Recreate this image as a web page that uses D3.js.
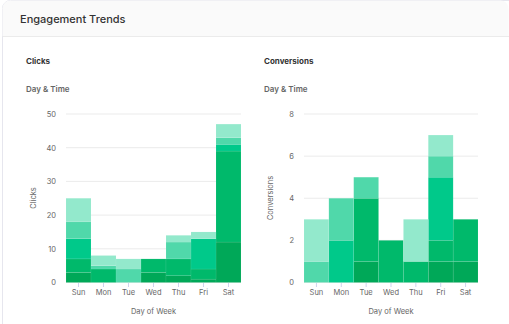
<!DOCTYPE html>
<html><head><meta charset="utf-8">
<script src="https://cdn.jsdelivr.net/npm/d3@7"></script>
<style>
html,body{margin:0;padding:0;background:#fff;}
svg{display:block;font-family:Inter,"Noto Sans",sans-serif;}
</style></head><body>
<svg id="c" width="509" height="324"></svg>
<script>
const days = ["Sun","Mon","Tue","Wed","Thu","Fri","Sat"];
const slots = ["s1","s2","s3","s4","s5"];
const slotColors = ["#00a858","#00b96b","#00c98a","#50d8aa","#93e9cc"];
// clicks per slot (bottom to top)
const clicksS1 = [3,0,0,3,2,1,12];
const clicksS2 = [4,4,0,4,5,3,27];
const clicksS3 = [6,0,0,0,0,9,2];
const clicksS4 = [5,1,4,0,5,0,2];
const clicksS5 = [7,3,3,0,2,2,4];
const clickTicks = [0,10,20,30,40,50];
// conversions per slot
const convS1 = [0,0,1,0,0,1,1];
const convS2 = [0,0,3,2,1,1,2];
const convS3 = [0,2,0,0,0,3,0];
const convS4 = [1,2,1,0,0,1,0];
const convS5 = [2,0,0,0,2,1,0];
const convTicks = [0,2,4,6,8];

const svg = d3.select("#c");
// card
svg.append("rect").attr("x",2.5).attr("y",0.5).attr("width",520).attr("height",340)
  .attr("rx",8).attr("fill","#fff").attr("stroke","#e6e6ee");
svg.append("path").attr("d","M2.5,36 V8.5 A8,8 0 0 1 10.5,0.5 H500.5 A8,8 0 0 1 508.5,8.5 V36 Z").attr("fill","#fafafa");
svg.append("line").attr("x1",2.5).attr("x2",509).attr("y1",36.5).attr("y2",36.5).attr("stroke","#ebebeb");
svg.append("text").attr("x",20).attr("y",22.5).attr("font-size",11).attr("font-weight",500)
  .attr("fill","#333").text("Engagement Trends");

function panel(x0, title, yLabel, series, ticks, ymax, xr){
  svg.append("text").attr("x",x0).attr("y",64).attr("font-size",8).attr("font-weight",700).attr("fill","#333").text(title);
  svg.append("text").attr("x",x0).attr("y",92).attr("font-size",8).attr("font-weight",600).attr("fill","#666").text("Day & Time");
  const x = d3.scaleBand().domain(days).range(xr).padding(0);
  const y = d3.scaleLinear().domain([0,ymax]).range([282.5,114]);
  const g = svg.append("g");
  g.selectAll("line.grid").data(ticks).join("line").attr("class","grid")
    .attr("x1",xr[0]).attr("x2",xr[1]).attr("y1",d=>y(d)).attr("y2",d=>y(d))
    .attr("stroke","#ebebeb");
  const data = days.map((d,i)=>{const o={day:d}; slots.forEach((s,j)=>o[s]=series[j][i]); return o;});
  const stack = d3.stack().keys(slots)(data);
  g.selectAll("g.layer").data(stack).join("g").attr("fill",(d,i)=>slotColors[i])
    .selectAll("rect").data(d=>d).join("rect")
    .attr("x",d=>x(d.data.day)).attr("width",x.bandwidth())
    .attr("y",d=>y(d[1])).attr("height",d=>y(d[0])-y(d[1]))
    .attr("stroke","rgba(255,255,255,0.15)").attr("stroke-width",0.5);
  const ya = d3.axisLeft(y).tickValues(ticks).tickSize(0).tickPadding(0);
  const yg = g.append("g").attr("transform",`translate(${xr[0]-10},0)`).call(ya);
  yg.select(".domain").remove();
  yg.selectAll("text").attr("font-size",7.5).attr("fill","#666").attr("font-family","Inter,sans-serif");
  const xa = d3.axisBottom(x).tickSize(4).tickPadding(3);
  const xg = g.append("g").attr("transform","translate(0,283)").call(xa);
  xg.select(".domain").remove();
  xg.selectAll("line").attr("stroke","#cfd3ee");
  xg.selectAll("text").attr("font-size",7.5).attr("fill","#666").attr("font-family","Inter,sans-serif");
  svg.append("text").attr("transform",`translate(${x0+ (title==="Clicks"?9.5:9)},198) rotate(-90)`)
    .attr("text-anchor","middle").attr("font-size",7.5).attr("fill","#666").text(yLabel);
  svg.append("text").attr("x",(xr[0]+xr[1])/2).attr("y",314).attr("text-anchor","middle")
    .attr("font-size",7.5).attr("fill","#666").text("Day of Week");
}
panel(26,"Clicks","Clicks",[clicksS1,clicksS2,clicksS3,clicksS4,clicksS5],clickTicks,50,[66,241]);
panel(264,"Conversions","Conversions",[convS1,convS2,convS3,convS4,convS5],convTicks,8,[304,478]);
</script></body></html>
